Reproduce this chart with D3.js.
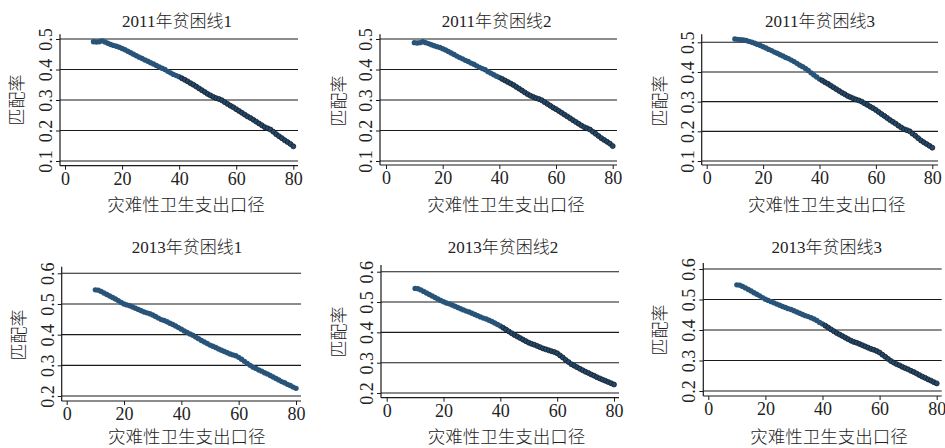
<!DOCTYPE html>
<html>
<head>
<meta charset="utf-8">
<script src="https://cdn.jsdelivr.net/npm/d3@7"></script>
<style>
  body { margin: 0; background: #fff; }
  svg text { font-family: "Liberation Serif", "Noto Sans CJK SC", serif; fill: #222; font-weight: 300; }
</style>
</head>
<body>
<svg id="chart" width="945" height="448"></svg>
<script>
// catastrophic health spending threshold (%)
const thresholds = [10, 11, 12, 13, 14, 15, 16, 17, 18, 19, 20,
  21, 22, 23, 24, 25, 26, 27, 28, 29, 30,
  31, 32, 33, 34, 35, 36, 37, 38, 39, 40,
  41, 42, 43, 44, 45, 46, 47, 48, 49, 50,
  51, 52, 53, 54, 55, 56, 57, 58, 59, 60,
  61, 62, 63, 64, 65, 66, 67, 68, 69, 70,
  71, 72, 73, 74, 75, 76, 77, 78, 79, 80];

const match2011_1 = [0.491, 0.490, 0.491, 0.494, 0.490, 0.486, 0.482, 0.479, 0.476, 0.473, 0.469,
  0.465, 0.460, 0.455, 0.450, 0.445, 0.440, 0.436, 0.431, 0.427, 0.422,
  0.418, 0.413, 0.408, 0.404, 0.400, 0.394, 0.389, 0.384, 0.380, 0.376,
  0.371, 0.366, 0.361, 0.355, 0.350, 0.344, 0.338, 0.332, 0.326, 0.320,
  0.315, 0.310, 0.306, 0.303, 0.299, 0.293, 0.287, 0.281, 0.276, 0.270,
  0.264, 0.258, 0.252, 0.246, 0.241, 0.235, 0.229, 0.223, 0.217, 0.211,
  0.207, 0.203, 0.196, 0.188, 0.181, 0.175, 0.168, 0.162, 0.156, 0.148];

const match2011_2 = [0.488, 0.487, 0.488, 0.491, 0.488, 0.485, 0.481, 0.478, 0.475, 0.472, 0.468,
  0.464, 0.459, 0.454, 0.449, 0.444, 0.439, 0.435, 0.430, 0.426, 0.421,
  0.417, 0.412, 0.407, 0.403, 0.399, 0.393, 0.388, 0.383, 0.378, 0.374,
  0.369, 0.364, 0.359, 0.354, 0.349, 0.343, 0.337, 0.331, 0.325, 0.319,
  0.314, 0.310, 0.306, 0.303, 0.299, 0.293, 0.287, 0.281, 0.275, 0.270,
  0.264, 0.258, 0.252, 0.246, 0.240, 0.234, 0.228, 0.222, 0.216, 0.211,
  0.207, 0.203, 0.196, 0.189, 0.182, 0.175, 0.169, 0.163, 0.157, 0.149];

const match2011_3 = [0.511, 0.510, 0.509, 0.508, 0.506, 0.503, 0.500, 0.497, 0.493, 0.489, 0.485,
  0.481, 0.476, 0.472, 0.467, 0.463, 0.458, 0.454, 0.449, 0.445, 0.440,
  0.435, 0.429, 0.423, 0.418, 0.412, 0.405, 0.397, 0.390, 0.383, 0.376,
  0.371, 0.365, 0.360, 0.354, 0.348, 0.342, 0.336, 0.330, 0.325, 0.319,
  0.315, 0.311, 0.307, 0.304, 0.300, 0.294, 0.289, 0.283, 0.278, 0.272,
  0.265, 0.258, 0.252, 0.245, 0.238, 0.232, 0.226, 0.219, 0.213, 0.207,
  0.204, 0.200, 0.192, 0.185, 0.177, 0.169, 0.163, 0.157, 0.151, 0.145];

const match2013_1 = [0.546, 0.545, 0.541, 0.536, 0.531, 0.526, 0.521, 0.516, 0.511, 0.505, 0.500,
  0.497, 0.494, 0.490, 0.486, 0.482, 0.478, 0.474, 0.471, 0.468, 0.464,
  0.459, 0.454, 0.449, 0.446, 0.442, 0.437, 0.433, 0.428, 0.423, 0.418,
  0.412, 0.407, 0.402, 0.398, 0.392, 0.387, 0.381, 0.376, 0.371, 0.366,
  0.362, 0.358, 0.353, 0.349, 0.345, 0.341, 0.337, 0.334, 0.331, 0.326,
  0.320, 0.313, 0.306, 0.300, 0.294, 0.290, 0.285, 0.281, 0.276, 0.272,
  0.267, 0.262, 0.257, 0.252, 0.247, 0.243, 0.238, 0.234, 0.229, 0.225];

const match2013_2 = [0.545, 0.544, 0.540, 0.535, 0.530, 0.525, 0.520, 0.515, 0.510, 0.505, 0.501,
  0.497, 0.494, 0.490, 0.486, 0.482, 0.478, 0.474, 0.470, 0.467, 0.463,
  0.459, 0.455, 0.451, 0.447, 0.444, 0.440, 0.436, 0.431, 0.426, 0.421,
  0.415, 0.409, 0.403, 0.397, 0.391, 0.386, 0.381, 0.376, 0.371, 0.366,
  0.362, 0.359, 0.355, 0.351, 0.347, 0.344, 0.341, 0.338, 0.335, 0.331,
  0.324, 0.317, 0.309, 0.302, 0.295, 0.290, 0.285, 0.280, 0.275, 0.270,
  0.266, 0.261, 0.257, 0.252, 0.248, 0.244, 0.240, 0.236, 0.232, 0.228];

const match2013_3 = [0.548, 0.547, 0.543, 0.538, 0.533, 0.528, 0.522, 0.517, 0.512, 0.506, 0.501,
  0.497, 0.493, 0.489, 0.485, 0.481, 0.477, 0.474, 0.470, 0.467, 0.463,
  0.459, 0.455, 0.451, 0.447, 0.444, 0.440, 0.436, 0.431, 0.425, 0.420,
  0.414, 0.408, 0.402, 0.396, 0.390, 0.385, 0.380, 0.375, 0.370, 0.365,
  0.361, 0.358, 0.354, 0.350, 0.346, 0.342, 0.338, 0.335, 0.331, 0.326,
  0.319, 0.312, 0.305, 0.298, 0.293, 0.288, 0.284, 0.279, 0.275, 0.271,
  0.266, 0.262, 0.257, 0.252, 0.247, 0.243, 0.238, 0.234, 0.229, 0.225];

const titles = ["2011年贫困线1", "2011年贫困线2", "2011年贫困线3",
                "2013年贫困线1", "2013年贫困线2", "2013年贫困线3"];
const series = [match2011_1, match2011_2, match2011_3, match2013_1, match2013_2, match2013_3];
const xTicks = [0, 20, 40, 60, 80];
const yTicks2011 = [0.1, 0.2, 0.3, 0.4, 0.5];
const yTicks2013 = [0.2, 0.3, 0.4, 0.5, 0.6];
const yTicks = [yTicks2011, yTicks2011, yTicks2011, yTicks2013, yTicks2013, yTicks2013];
const xTitle = "灾难性卫生支出口径";
const yTitle = "匹配率";

const frames = [
  {left: 60,    x0: 65,    x80: 293.3, right: 298,   top: 34.3,  bottom: 165.7, yLo: 161, yHi: 39,    tx: 177,   ty: 27,  xx: 186,   xy: 211, lx: 17.5,  ly: 100, outlined: true},
  {left: 380,   x0: 386,   x80: 612.7, right: 617,   top: 34.3,  bottom: 165,   yLo: 161, yHi: 39,    tx: 496.7, ty: 27,  xx: 506,   xy: 211, lx: 339,   ly: 101, outlined: true},
  {left: 701.7, x0: 706.7, x80: 932.3, right: 938,   top: 34.3,  bottom: 165,   yLo: 161, yHi: 42.3,  tx: 820,   ty: 27,  xx: 826.7, xy: 211, lx: 660.8, ly: 101, outlined: true},
  {left: 61.7,  x0: 66.7,  x80: 296,   right: 301,   top: 266.7, bottom: 401,   yLo: 396, yHi: 273.3, tx: 187,   ty: 253, xx: 186.7, xy: 443, lx: 19.2,  ly: 335, outlined: false},
  {left: 381,   x0: 386.7, x80: 614,   right: 619,   top: 265,   bottom: 397.7, yLo: 393, yHi: 271.7, tx: 503,   ty: 253, xx: 506.5, xy: 443, lx: 339,   ly: 332, outlined: true},
  {left: 703.3, x0: 708.3, x80: 936.7, right: 941.7, top: 263,   bottom: 396,   yLo: 391, yHi: 269,   tx: 826.7, ty: 253, xx: 829,   xy: 443, lx: 660.5, ly: 330, outlined: true}
];

const svg = d3.select("#chart");

frames.forEach((f, i) => {
  let ticks = yTicks[i];
  let x = d3.scaleLinear().domain([0, 80]).range([f.x0, f.x80]);
  let y = d3.scaleLinear().domain([ticks[0], ticks[ticks.length - 1]]).range([f.yLo, f.yHi]);
  let g = svg.append("g");

  // horizontal grid
  g.selectAll("line.grid")
    .data(ticks)
    .enter()
    .append("line")
    .attr("class", "grid")
    .attr("x1", f.left).attr("x2", f.right)
    .attr("y1", d => y(d)).attr("y2", d => y(d))
    .attr("stroke", "#1a1a1a")
    .attr("stroke-width", 1.1);

  // axes lines
  g.append("line")
    .attr("x1", f.left).attr("x2", f.left)
    .attr("y1", f.top).attr("y2", f.bottom)
    .attr("stroke", "#1a1a1a").attr("stroke-width", 1.2);
  g.append("line")
    .attr("x1", f.left).attr("x2", f.right)
    .attr("y1", f.bottom).attr("y2", f.bottom)
    .attr("stroke", "#1a1a1a").attr("stroke-width", 1.2);

  let xAxis = g.append("g")
    .attr("transform", `translate(0,${f.bottom})`)
    .call(d3.axisBottom(x).tickValues(xTicks).tickSize(4).tickSizeOuter(0));
  xAxis.select(".domain").remove();
  xAxis.selectAll("line").attr("stroke", "#1a1a1a");
  xAxis.selectAll("text")
    .attr("y", 19).attr("dy", 0)
    .style("font-size", "18px")
    .style("font-family", "Liberation Serif")
    .attr("fill", "#222");

  let yAxis = g.append("g")
    .attr("transform", `translate(${f.left},0)`)
    .call(d3.axisLeft(y).tickValues(ticks).tickSize(4).tickSizeOuter(0).tickFormat(d3.format(".1f")));
  yAxis.select(".domain").remove();
  yAxis.selectAll("line").attr("stroke", "#1a1a1a");
  yAxis.selectAll("text")
    .attr("x", 0).attr("dy", 0)
    .attr("transform", "translate(-8,0) rotate(-90)")
    .attr("text-anchor", "middle")
    .style("font-size", "18px")
    .style("font-family", "Liberation Serif")
    .attr("fill", "#222");

  // markers
  let pts = thresholds.map((t, k) => ({t: t, v: series[i][k]}));
  g.selectAll("circle.band")
    .data(pts.filter(d => !f.outlined || d.t <= 40))
    .enter()
    .append("circle")
    .attr("cx", d => x(d.t))
    .attr("cy", d => y(d.v))
    .attr("r", 2.7)
    .style("fill", "#285479");
  g.selectAll("circle.mark")
    .data(pts.filter(d => f.outlined && d.t > 40))
    .enter()
    .append("circle")
    .attr("cx", d => x(d.t))
    .attr("cy", d => y(d.v))
    .attr("r", 2.5)
    .style("fill", "#22496d")
    .style("stroke", "#151d26")
    .style("stroke-width", 0.8);

  // titles
  g.append("text")
    .attr("x", f.tx).attr("y", f.ty)
    .attr("text-anchor", "middle")
    .style("font-size", "17px")
    .text(titles[i]);
  g.append("text")
    .attr("x", f.xx).attr("y", f.xy)
    .attr("text-anchor", "middle")
    .style("font-size", "17.5px")
    .text(xTitle);
  g.append("text")
    .attr("transform", `translate(${f.lx},${f.ly}) rotate(-90)`)
    .attr("text-anchor", "middle")
    .attr("dominant-baseline", "central")
    .style("font-size", "17px")
    .text(yTitle);
});
</script>
</body>
</html>
